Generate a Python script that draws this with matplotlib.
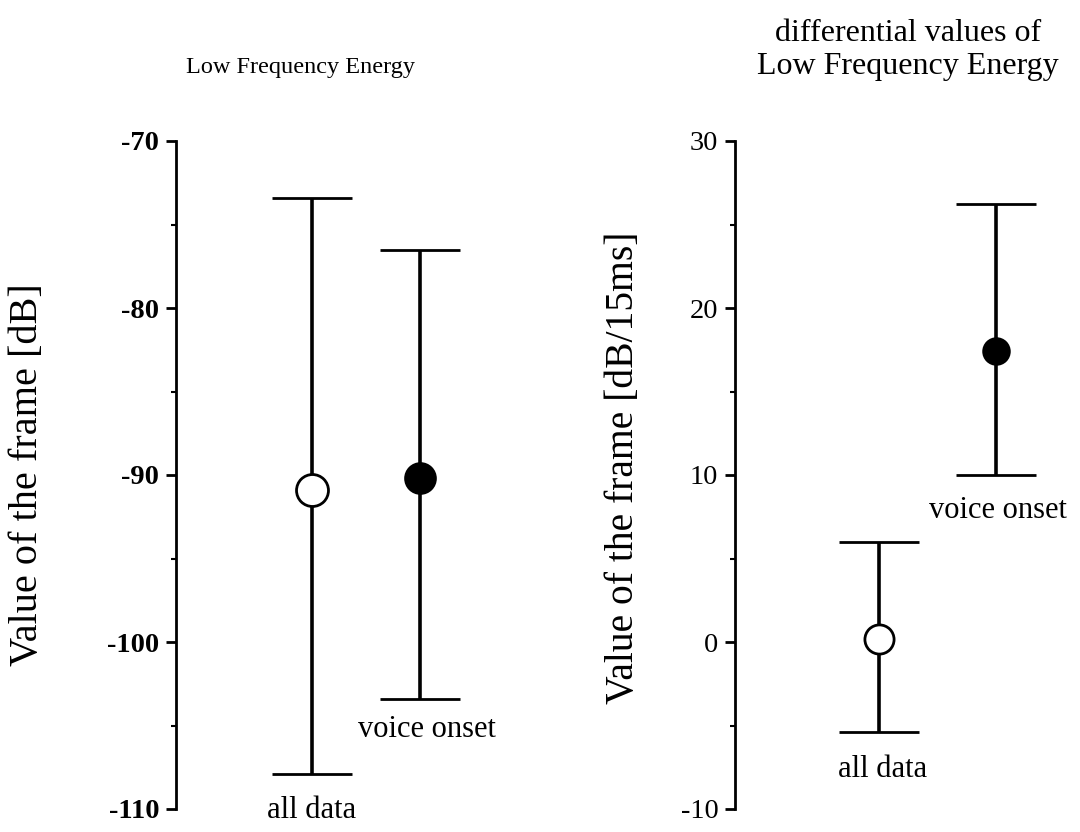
import numpy as np
import matplotlib.pyplot as plt
from matplotlib.ticker import MultipleLocator

plt.rcParams['font.family'] = ['Liberation Serif', 'DejaVu Serif']
plt.rcParams['axes.unicode_minus'] = False

groups = ["all data", "voice onset"]

# left panel: Low Frequency Energy [dB]
lfe_mean = [-90.9, -90.2]
lfe_top = [-73.4, -76.5]
lfe_bottom = [-107.9, -103.4]

# right panel: differential values [dB/15ms]
diff_mean = [0.2, 17.4]
diff_top = [6.0, 26.2]
diff_bottom = [-5.4, 10.0]

fig = plt.figure(figsize=(10.8, 8.32), dpi=100)
ax1 = fig.add_axes([176 / 1080, 1 - 809 / 832, 344 / 1080, 668 / 832])
ax2 = fig.add_axes([735 / 1080, 1 - 809 / 832, 345 / 1080, 668 / 832])


def draw_panel(ax, mean, top, bottom, sizes):
    x = np.array([1, 2])
    mean = np.array(mean)
    lo = mean - np.array(bottom)
    hi = np.array(top) - mean
    ax.errorbar(x, mean, yerr=[lo, hi], fmt='none', ecolor='black',
                elinewidth=2.6, capsize=29, capthick=2.0, zorder=2)
    ax.plot(x[0], mean[0], 'o', ms=sizes[0], mfc='white', mec='black',
            mew=2.0, zorder=3)
    ax.plot(x[1], mean[1], 'o', ms=sizes[1], mfc='black', mec='black',
            mew=1.5, zorder=3)
    for s in ['top', 'right', 'bottom']:
        ax.spines[s].set_visible(False)
    ax.spines['left'].set_linewidth(2.0)
    ax.set_xticks([])
    ax.yaxis.set_major_locator(MultipleLocator(10))
    ax.yaxis.set_minor_locator(MultipleLocator(5))
    ax.tick_params(axis='y', which='major', direction='out', length=7,
                   width=2.0, labelsize=20.5, pad=5)
    ax.tick_params(axis='y', which='minor', direction='out', length=3.5,
                   width=1.5)


draw_panel(ax1, lfe_mean, lfe_top, lfe_bottom, (23, 22))
ax1.set_xlim(-0.259, 2.926)
ax1.set_ylim(-110, -70)
for t in ax1.get_yticklabels():
    t.set_fontweight('bold')
ax1.text(1, -110.55, groups[0], ha='center', va='baseline', fontsize=22,
         clip_on=False)
ax1.text(2.06, -105.7, groups[1], ha='center', va='baseline', fontsize=22)
fig.text(28 / 1080, 1 - 475 / 832, "Value of the frame [dB]", rotation=90,
         ha='center', va='center', fontsize=29)
fig.text(300 / 1080, 1 - 68 / 832, "Low Frequency Energy", ha='center',
         va='center', fontsize=17.5)

draw_panel(ax2, diff_mean, diff_top, diff_bottom, (21, 19))
ax2.set_xlim(-0.231, 2.718)
ax2.set_ylim(-10, 30)
ax2.text(1.03, -8.1, groups[0], ha='center', va='baseline', fontsize=22)
ax2.text(2.02, 7.4, groups[1], ha='center', va='baseline', fontsize=22)
fig.text(624 / 1080, 1 - 468 / 832, "Value of the frame [dB/15ms]",
         rotation=90, ha='center', va='center', fontsize=28.5)
fig.text(908 / 1080, 1 - 50 / 832,
         "differential values of\nLow Frequency Energy", ha='center',
         va='center', fontsize=23)

plt.savefig("out.png", dpi=100)
